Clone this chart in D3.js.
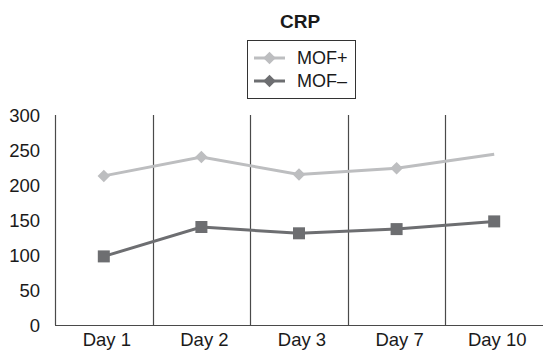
<!DOCTYPE html>
<html>
<head>
<meta charset="utf-8">
<script src="https://cdn.jsdelivr.net/npm/d3@7"></script>
<style>
  body { margin: 0; background: #fff; }
  text { font-family: Arial, "Liberation Sans", sans-serif; fill: #1a1a1a; }
</style>
</head>
<body>
<svg id="chart" width="544" height="350"></svg>
<script>
// Data
var days = ["Day 1", "Day 2", "Day 3", "Day 7", "Day 10"];
var mofPlus = [213, 240, 215, 224, 244];
var mofMinus = [98, 140, 131, 137, 148];
var yTicks = [0, 50, 100, 150, 200, 250, 300];

var w = 544;
var h = 350;
var plotLeft = 55, plotRight = 543, plotTop = 115, plotBottom = 325;

var lightGray = "#bdbec0";
var darkGray = "#6d6e71";

var svg = d3.select("#chart");

// Scales
var xScale = d3.scaleBand()
    .domain(days)
    .range([plotLeft, plotRight]);

var yScale = d3.scaleLinear()
    .domain([0, 300])
    .range([plotBottom, plotTop]);

// Vertical lines at each band start (y-axis + separators)
svg.selectAll("line.grid")
    .data(days)
    .enter()
    .append("line")
    .attr("class", "grid")
    .attr("x1", function (d) { return Math.round(xScale(d)) + 0.5; })
    .attr("x2", function (d) { return Math.round(xScale(d)) + 0.5; })
    .attr("y1", yScale(300))
    .attr("y2", yScale(0))
    .attr("stroke", "#4a4a4a")
    .attr("stroke-width", 1.2);

// x-axis baseline
svg.append("line")
    .attr("x1", plotLeft)
    .attr("x2", plotRight)
    .attr("y1", yScale(0) + 0.5)
    .attr("y2", yScale(0) + 0.5)
    .attr("stroke", "#4a4a4a")
    .attr("stroke-width", 1.2);

// y tick labels
svg.selectAll("text.ytick")
    .data(yTicks)
    .enter()
    .append("text")
    .attr("class", "ytick")
    .attr("x", 40)
    .attr("y", function (d) { return yScale(d); })
    .attr("dy", "0.36em")
    .attr("text-anchor", "end")
    .attr("font-size", 18.5)
    .text(function (d) { return d; });

// x labels
svg.selectAll("text.xtick")
    .data(days)
    .enter()
    .append("text")
    .attr("class", "xtick")
    .attr("x", function (d) { return xScale(d) + xScale.bandwidth() / 2 + 3; })
    .attr("y", 346)
    .attr("text-anchor", "middle")
    .attr("font-size", 18.5)
    .text(function (d) { return d; });

var cx = function (d, i) { return xScale(days[i]) + xScale.bandwidth() / 2; };

var line = d3.line()
    .x(cx)
    .y(function (d) { return yScale(d); });

// MOF+ series
svg.append("path")
    .datum(mofPlus)
    .attr("d", line)
    .attr("fill", "none")
    .attr("stroke", lightGray)
    .attr("stroke-width", 3);

// the last MOF+ point has no marker in the original
svg.selectAll("path.diamond")
    .data(mofPlus.slice(0, 4))
    .enter()
    .append("path")
    .attr("class", "diamond")
    .attr("d", d3.symbol().type(d3.symbolDiamond2).size(100))
    .attr("transform", function (d, i) {
        return "translate(" + cx(d, i) + "," + yScale(d) + ")";
    })
    .attr("fill", lightGray);

// MOF- series
svg.append("path")
    .datum(mofMinus)
    .attr("d", line)
    .attr("fill", "none")
    .attr("stroke", darkGray)
    .attr("stroke-width", 3);

svg.selectAll("rect.square")
    .data(mofMinus)
    .enter()
    .append("rect")
    .attr("class", "square")
    .attr("x", function (d, i) { return cx(d, i) - 6; })
    .attr("y", function (d) { return yScale(d) - 6; })
    .attr("width", 12)
    .attr("height", 12)
    .attr("fill", darkGray);

// Title
svg.append("text")
    .attr("x", 300)
    .attr("y", 28)
    .attr("text-anchor", "middle")
    .attr("font-size", 19)
    .attr("font-weight", "bold")
    .text("CRP");

// Legend
var legend = svg.append("g");
legend.append("rect")
    .attr("x", 247.5)
    .attr("y", 40.5)
    .attr("width", 108)
    .attr("height", 58)
    .attr("fill", "#fff")
    .attr("stroke", "#333")
    .attr("stroke-width", 1);

var legendItems = [
    { name: "MOF+", color: lightGray, y: 58 },
    { name: "MOF\u2013", color: darkGray, y: 81 }
];

legendItems.forEach(function (item) {
    legend.append("line")
        .attr("x1", 254)
        .attr("x2", 285)
        .attr("y1", item.y)
        .attr("y2", item.y)
        .attr("stroke", item.color)
        .attr("stroke-width", 3);
    legend.append("path")
        .attr("d", d3.symbol().type(d3.symbolDiamond2).size(100))
        .attr("transform", "translate(269.5," + item.y + ")")
        .attr("fill", item.color);
    legend.append("text")
        .attr("x", 297)
        .attr("y", item.y)
        .attr("dy", "0.36em")
        .attr("font-size", 18)
        .text(item.name);
});
</script>
</body>
</html>
